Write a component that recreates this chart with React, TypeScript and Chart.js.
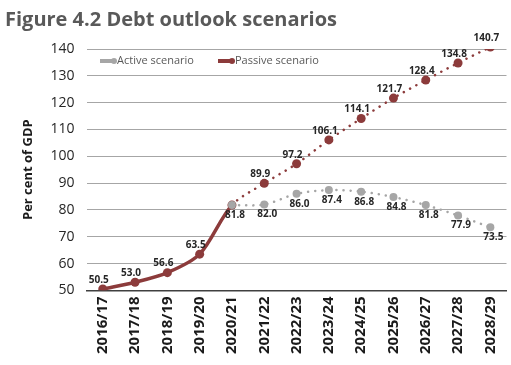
import React, { useEffect, useRef } from "react";
import { Chart, registerables } from "chart.js";
Chart.register(...registerables);

const categories = ["2016/17","2017/18","2018/19","2019/20","2020/21","2021/22","2022/23","2023/24","2024/25","2025/26","2026/27","2027/28","2028/29"];
const passiveValues = [50.5, 53.0, 56.6, 63.5, 81.8, 89.9, 97.2, 106.1, 114.1, 121.7, 128.4, 134.8, 140.7];
const activeValues = [null, null, null, null, 81.8, 82.0, 86.0, 87.4, 86.8, 84.8, 81.8, 77.9, 73.5];
const passiveLabels = ["50.5","53.0","56.6","63.5","","89.9","97.2","106.1","114.1","121.7","128.4","134.8","140.7"];
const activeLabels = ["","","","","81.8","82.0","86.0","87.4","86.8","84.8","81.8","77.9","73.5"];
const seriesNames = ["Active scenario", "Passive scenario"];
const yTicks = [50, 60, 70, 80, 90, 100, 110, 120, 130, 140];

const RED = "#8c3b3b";
const GREY = "#a6a6a6";
const FONT = "'Open Sans', sans-serif";

export default function App() {
  const ref = useRef<HTMLCanvasElement>(null);
  useEffect(() => {
    const canvas = ref.current!;
    const labelPlugin = {
      id: "labels",
      afterDatasetsDraw(chart: any) {
        const ctx = chart.ctx;
        ctx.save();
        ctx.font = `bold 10px ${FONT}`;
        ctx.fillStyle = "#262626";
        ctx.textAlign = "center";
        const active = chart.getDatasetMeta(0).data;
        const passive = chart.getDatasetMeta(1).data;
        passive.forEach((p: any, i: number) => {
          const t = passiveLabels[i];
          if (!t) return;
          ctx.textBaseline = "bottom";
          ctx.fillText(t, p.x - 4, p.y - 4);
        });
        active.forEach((p: any, i: number) => {
          const t = activeLabels[i];
          if (!t || p.skip) return;
          ctx.textBaseline = "top";
          ctx.fillText(t, p.x + 3, p.y + 5);
        });
        // legend
        const items = [
          { name: seriesNames[0], color: GREY, x: 100 },
          { name: seriesNames[1], color: RED, x: 218 },
        ];
        const ly = chart.chartArea.top + 12;
        items.forEach((it) => {
          ctx.strokeStyle = it.color;
          ctx.lineWidth = 4;
          ctx.beginPath();
          ctx.moveTo(it.x, ly);
          ctx.lineTo(it.x + 16, ly);
          ctx.stroke();
          ctx.fillStyle = it.color;
          ctx.beginPath();
          ctx.arc(it.x + 14, ly, 3, 0, Math.PI * 2);
          ctx.fill();
          ctx.fillStyle = "#595959";
          ctx.font = `11px ${FONT}`;
          ctx.textAlign = "left";
          ctx.textBaseline = "middle";
          ctx.fillText(it.name, it.x + 17, ly);
        });
        ctx.restore();
      },
    };
    const chart = new Chart(canvas, {
      type: "line",
      data: {
        labels: categories,
        datasets: [
          {
            label: seriesNames[0],
            data: activeValues,
            borderColor: GREY,
            backgroundColor: GREY,
            borderWidth: 2.5,
            borderDash: [0.1, 7],
            borderCapStyle: "round",
            pointRadius: 4,
            pointBorderWidth: 0,
            tension: 0.3,
            spanGaps: false,
          },
          {
            label: seriesNames[1],
            data: passiveValues,
            borderColor: RED,
            backgroundColor: RED,
            borderWidth: 3.5,
            borderCapStyle: "round",
            pointRadius: 4.5,
            pointBorderWidth: 0,
            tension: 0.3,
            segment: {
              borderDash: (ctx: any) => (ctx.p0DataIndex >= 4 ? [0.1, 7] : undefined),
              borderWidth: (ctx: any) => (ctx.p0DataIndex >= 4 ? 2.5 : 3.5),
            },
          },
        ],
      },
      options: {
        animation: false,
        responsive: false,
        layout: { padding: { left: 5, right: 0, top: 0, bottom: 5 } },
        plugins: {
          legend: { display: false },
          tooltip: { enabled: false },
          title: {
            display: true,
            text: "Figure 4.2 Debt outlook scenarios",
            align: "start",
            color: "#595959",
            font: { family: FONT, size: 20, weight: "bold" },
            padding: { top: 8, bottom: 17 },
          },
        },
        scales: {
          x: {
            offset: true,
            grid: { display: false, drawTicks: false },
            border: { display: true, color: "#404040", width: 1.5 },
            afterFit: (axis: any) => {
              axis.paddingRight = 0;
              axis.paddingLeft = 0;
            },
            ticks: {
              minRotation: 90,
              maxRotation: 90,
              color: "#1a1a1a",
              padding: 6,
              font: { family: FONT, size: 15, weight: "bold" },
            },
          },
          y: {
            min: 50,
            max: 140,
            afterBuildTicks: (axis: any) => {
              axis.ticks = yTicks.map((v) => ({ value: v }));
            },
            grid: { color: "#a6a6a6", lineWidth: 1, drawTicks: false },
            border: { display: false },
            ticks: {
              color: "#262626",
              padding: 12,
              font: { family: FONT, size: 14 },
            },
            title: {
              display: true,
              text: "Per cent of GDP",
              color: "#1a1a1a",
              font: { family: FONT, size: 13, weight: "bold" },
              padding: { top: 15, bottom: 3 },
            },
          },
        },
      },
      plugins: [labelPlugin],
    } as any);
    return () => chart.destroy();
  }, []);
  return (
    <div style={{ position: "fixed", left: 0, top: 0, width: 511, height: 365, background: "#fff" }}>
      <canvas ref={ref} width={511} height={365} style={{ width: 511, height: 365 }} />
    </div>
  );
}
